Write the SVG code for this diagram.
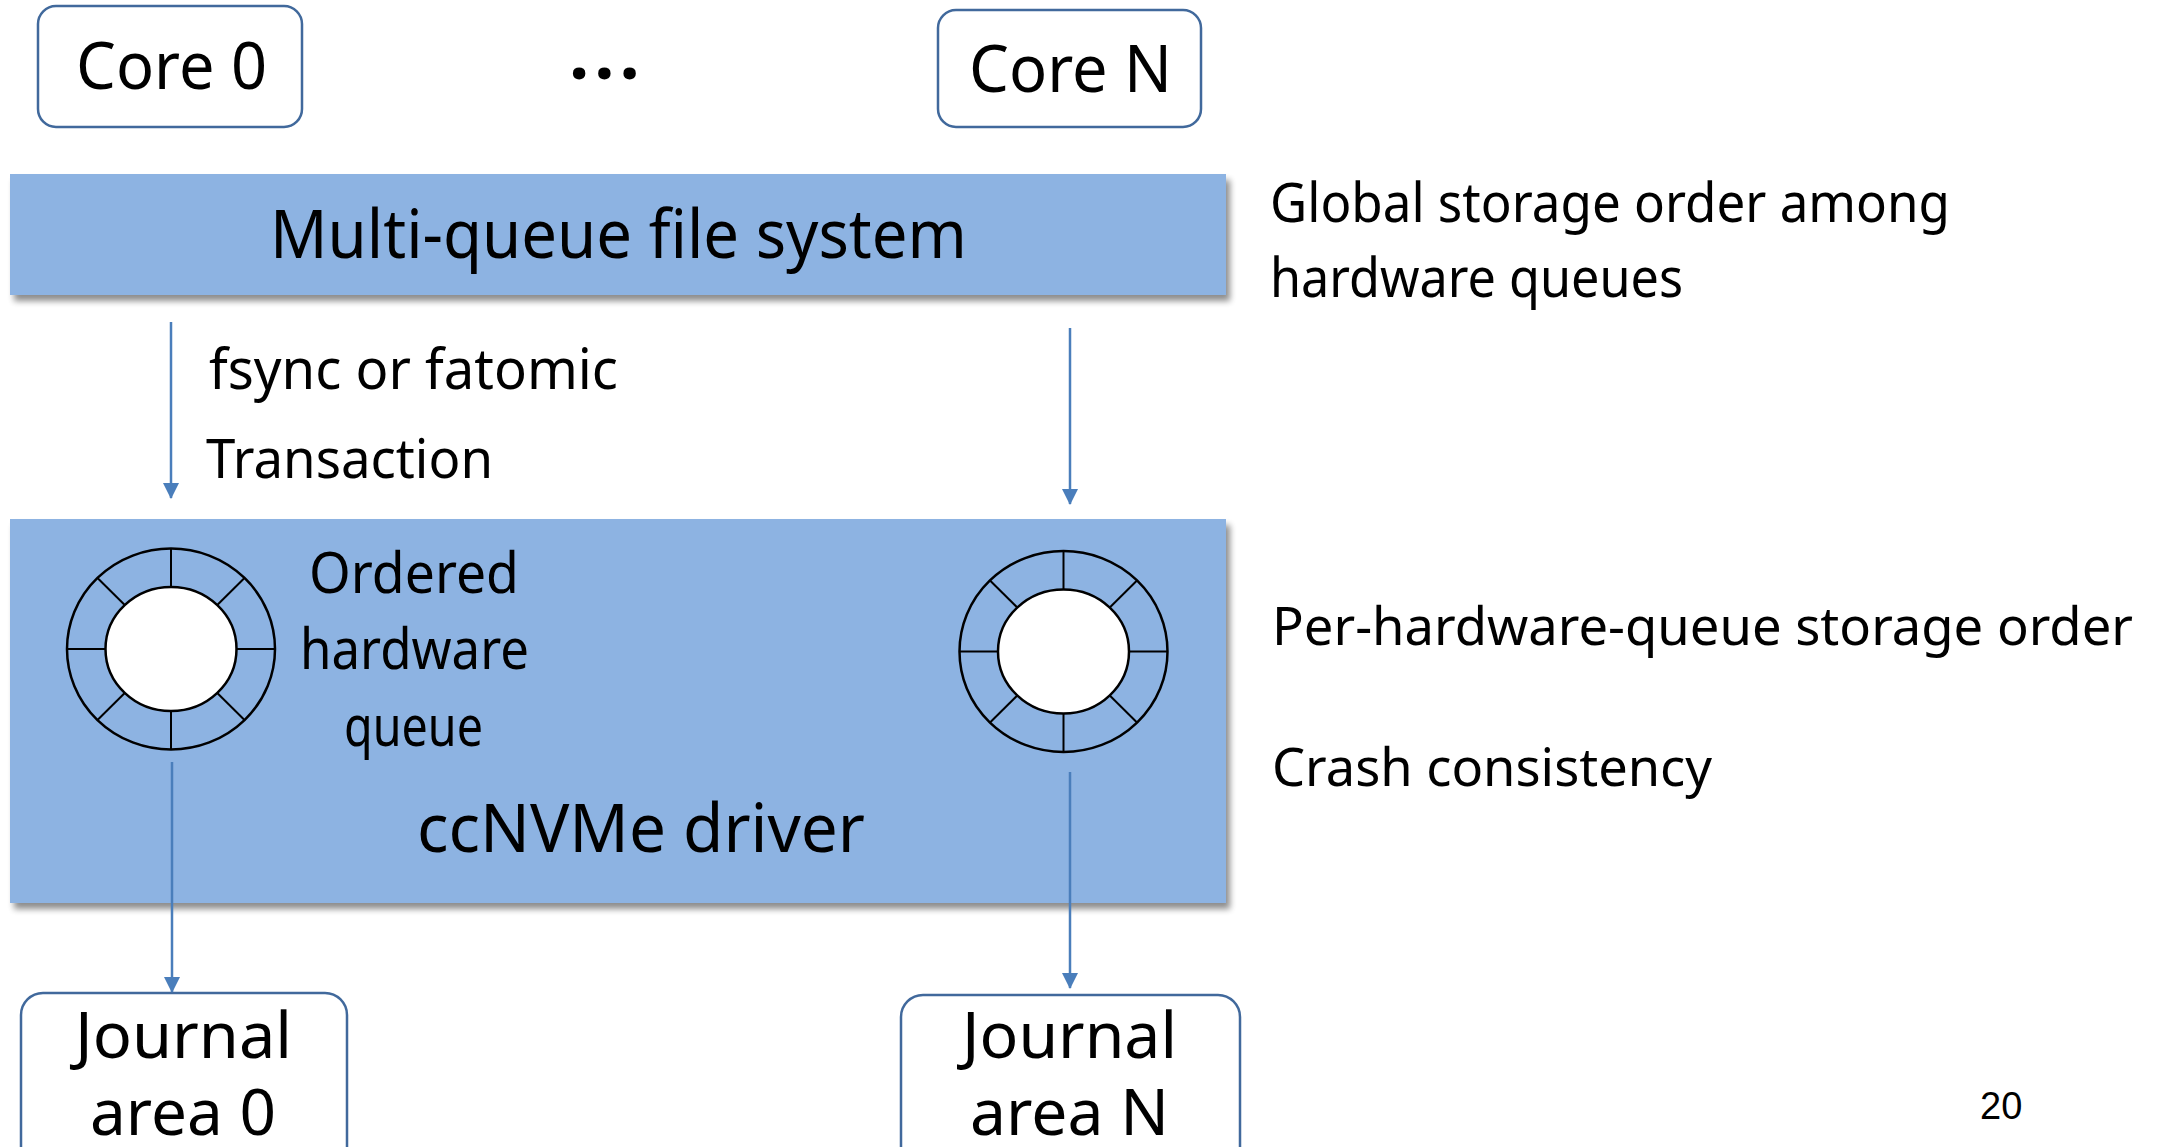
<svg xmlns="http://www.w3.org/2000/svg" width="2161" height="1147" viewBox="0 0 2161 1147">
<style>
.t{font-family:"Noto Sans","Open Sans","DejaVu Sans",sans-serif;fill:#000;}
.box{fill:#fff;stroke:#41699c;stroke-width:2.5;}
.band{fill:#8db3e2;}
.conn{stroke:#4a7ebb;stroke-width:2.5;fill:none;marker-end:url(#ah);}
.ring{stroke:#000;stroke-width:2.5;}
.spoke{stroke:#000;stroke-width:2;}
</style>
<defs>
<filter id="sh" x="-5%" y="-20%" width="110%" height="150%">
<feGaussianBlur in="SourceAlpha" stdDeviation="3"/>
<feOffset dx="4" dy="6" result="b"/>
<feComponentTransfer><feFuncA type="linear" slope="0.45"/></feComponentTransfer>
<feMerge><feMergeNode/><feMergeNode in="SourceGraphic"/></feMerge>
</filter>
<marker id="ah" markerUnits="userSpaceOnUse" markerWidth="16" markerHeight="16" viewBox="0 0 16 16" refX="15" refY="8" orient="auto">
<path d="M0,0 L16,8 L0,16 z" fill="#4a7ebb"/>
</marker>
<g id="ringShape">
<ellipse cx="0" cy="0" rx="104" ry="100.5" class="ring" fill="#8db3e2"/>
<line class="spoke" x1="65" y1="0" x2="104" y2="0"/>
<line class="spoke" x1="46" y1="43.8" x2="73.5" y2="71"/>
<line class="spoke" x1="0" y1="62" x2="0" y2="100.5"/>
<line class="spoke" x1="-46" y1="43.8" x2="-73.5" y2="71"/>
<line class="spoke" x1="-65" y1="0" x2="-104" y2="0"/>
<line class="spoke" x1="-46" y1="-43.8" x2="-73.5" y2="-71"/>
<line class="spoke" x1="0" y1="-62" x2="0" y2="-100.5"/>
<line class="spoke" x1="46" y1="-43.8" x2="73.5" y2="-71"/>
<ellipse cx="0" cy="0" rx="65.5" ry="62" class="ring" fill="#fff"/>
</g>
</defs>
<rect width="2161" height="1147" fill="#fff"/>

<g id="core0">
<rect class="box" x="38" y="6" width="264" height="121" rx="18"/>
<text class="t" x="76" y="89" font-size="66" textLength="191" lengthAdjust="spacingAndGlyphs">Core 0</text>
</g>
<g id="ellipsis">
<text class="t" x="569" y="79" font-size="72" font-weight="bold" letter-spacing="5">...</text>
</g>
<g id="coreN">
<rect class="box" x="938" y="10" width="263" height="117" rx="18"/>
<text class="t" x="969" y="92" font-size="66" textLength="203" lengthAdjust="spacingAndGlyphs">Core N</text>
</g>

<g id="fs">
<rect class="band" x="10" y="174" width="1216" height="121" filter="url(#sh)"/>
<text class="t" x="270" y="258" font-size="68" textLength="697" lengthAdjust="spacingAndGlyphs">Multi-queue file system</text>
</g>

<g id="driver">
<rect class="band" x="10" y="519" width="1216" height="384" filter="url(#sh)"/>
<use href="#ringShape" transform="translate(171,649)"/>
<use href="#ringShape" transform="translate(1063.5,651.5)"/>
<text class="t" x="309" y="593" font-size="57" textLength="210" lengthAdjust="spacingAndGlyphs">Ordered</text>
<text class="t" x="300" y="669" font-size="57" textLength="229" lengthAdjust="spacingAndGlyphs">hardware</text>
<text class="t" x="344" y="746" font-size="57" textLength="139" lengthAdjust="spacingAndGlyphs">queue</text>
<text class="t" x="417" y="852" font-size="68" textLength="448" lengthAdjust="spacingAndGlyphs">ccNVMe driver</text>
</g>

<g id="journal0">
<rect class="box" x="21" y="993" width="326" height="200" rx="22"/>
<text class="t" x="75" y="1058" font-size="64" textLength="217" lengthAdjust="spacingAndGlyphs">Journal</text>
<text class="t" x="90" y="1135" font-size="64" textLength="186" lengthAdjust="spacingAndGlyphs">area 0</text>
</g>
<g id="journalN">
<rect class="box" x="901" y="995" width="339" height="200" rx="22"/>
<text class="t" x="962" y="1058" font-size="64" textLength="215" lengthAdjust="spacingAndGlyphs">Journal</text>
<text class="t" x="970" y="1135" font-size="64" textLength="199" lengthAdjust="spacingAndGlyphs">area N</text>
</g>

<g id="connectors">
<line class="conn" x1="171" y1="322" x2="171" y2="498"/>
<line class="conn" x1="1070" y1="328" x2="1070" y2="504"/>
<line class="conn" x1="172" y1="762" x2="172" y2="992"/>
<line class="conn" x1="1070" y1="772" x2="1070" y2="988"/>
</g>

<g id="labels">
<text class="t" x="209" y="389" font-size="56" textLength="409" lengthAdjust="spacingAndGlyphs">fsync or fatomic</text>
<text class="t" x="206" y="478" font-size="55" textLength="287" lengthAdjust="spacingAndGlyphs">Transaction</text>
<text class="t" x="1270" y="222" font-size="55" textLength="680" lengthAdjust="spacingAndGlyphs">Global storage order among</text>
<text class="t" x="1270" y="297" font-size="55" textLength="413" lengthAdjust="spacingAndGlyphs">hardware queues</text>
<text class="t" x="1272" y="645" font-size="53" textLength="861" lengthAdjust="spacingAndGlyphs">Per-hardware-queue storage order</text>
<text class="t" x="1272" y="786" font-size="53" textLength="440" lengthAdjust="spacingAndGlyphs">Crash consistency</text>
<text x="1980" y="1119" font-size="38" font-family="Liberation Sans, Arial, sans-serif">20</text>
</g>
</svg>
